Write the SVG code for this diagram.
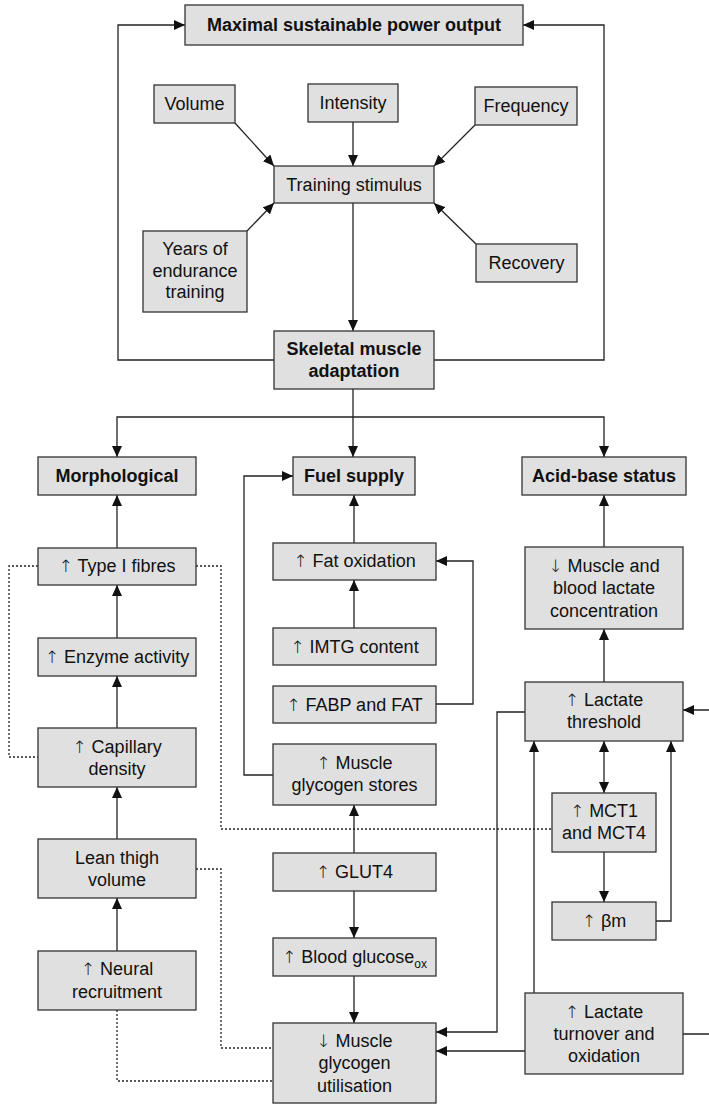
<svg xmlns="http://www.w3.org/2000/svg" width="709" height="1107" viewBox="0 0 709 1107">
<style>
.b{fill:#e0e0e0;stroke:#333;stroke-width:1.3}
text{font-family:"Liberation Sans",Arial,sans-serif;font-size:18px;fill:#111;text-anchor:middle}
.h{font-weight:bold}
.r{font-family:"DejaVu Sans",sans-serif;font-weight:200;font-size:17px}
.c{fill:none;stroke:#222;stroke-width:1.3}
.d{fill:none;stroke:#222;stroke-width:1.3;stroke-dasharray:2 2}
</style>
<defs>
<marker id="a" markerUnits="userSpaceOnUse" markerWidth="11" markerHeight="10" refX="11" refY="5" orient="auto-start-reverse">
<path d="M0,0 L11,5 L0,10 z" fill="#111"/>
</marker>
</defs>
<rect width="709" height="1107" fill="#fff"/>
<g id="connectors">
<path class="c" d="M274,360 H118 V25 H185" marker-end="url(#a)"/>
<path class="c" d="M434,360 H604 V25 H523" marker-end="url(#a)"/>
<path class="c" d="M235,123 L274,166" marker-end="url(#a)"/>
<path class="c" d="M353,122 V166" marker-end="url(#a)"/>
<path class="c" d="M475,125 L434,166" marker-end="url(#a)"/>
<path class="c" d="M247,231 L274,203" marker-end="url(#a)"/>
<path class="c" d="M476,244 L434,203" marker-end="url(#a)"/>
<path class="c" d="M353,203 V331" marker-end="url(#a)"/>
<path class="c" d="M353,389 V457" marker-end="url(#a)"/>
<path class="c" d="M353,417 H117 V457" marker-end="url(#a)"/>
<path class="c" d="M353,417 H604 V457" marker-end="url(#a)"/>
<path class="c" d="M117,548 V495" marker-end="url(#a)"/>
<path class="c" d="M117,638 V585" marker-end="url(#a)"/>
<path class="c" d="M117,728 V676" marker-end="url(#a)"/>
<path class="c" d="M117,839 V787" marker-end="url(#a)"/>
<path class="c" d="M117,951 V898" marker-end="url(#a)"/>
<path class="c" d="M354,543 V495" marker-end="url(#a)"/>
<path class="c" d="M354,628 V580" marker-end="url(#a)"/>
<path class="c" d="M436,704 H473 V561 H436" marker-end="url(#a)"/>
<path class="c" d="M273,775 H244 V476 H293" marker-end="url(#a)"/>
<path class="c" d="M354,853 V805" marker-end="url(#a)"/>
<path class="c" d="M354,891 V938" marker-end="url(#a)"/>
<path class="c" d="M354,976 V1023" marker-end="url(#a)"/>
<path class="c" d="M604,547 V495" marker-end="url(#a)"/>
<path class="c" d="M604,682 V629" marker-end="url(#a)"/>
<path class="c" d="M604,741 V793" marker-start="url(#a)" marker-end="url(#a)"/>
<path class="c" d="M604,852 V902" marker-end="url(#a)"/>
<path class="c" d="M656,921 H671 V741" marker-end="url(#a)"/>
<path class="c" d="M534,993 V741" marker-end="url(#a)"/>
<path class="c" d="M525,712 H497 V1032 H436" marker-end="url(#a)"/>
<path class="c" d="M525,1051 H436" marker-end="url(#a)"/>
<path class="c" d="M683,1034 H712 V710 H683" marker-end="url(#a)"/>
<path class="d" d="M38,566 H9 V757 H38"/>
<path class="d" d="M196,566 H221 V829 H552"/>
<path class="d" d="M196,869 H221 V1048 H273"/>
<path class="d" d="M117,1010 V1081 H273"/>
</g>
<g id="power"><rect class="b" x="185" y="5" width="338" height="40"/><text class="h" x="354" y="31">Maximal sustainable power output</text></g>
<g id="volume"><rect class="b" x="154" y="85" width="81" height="38"/><text x="194.5" y="110">Volume</text></g>
<g id="intensity"><rect class="b" x="308" y="84" width="90" height="38"/><text x="353" y="109">Intensity</text></g>
<g id="frequency"><rect class="b" x="475" y="87" width="102" height="38"/><text x="526" y="112">Frequency</text></g>
<g id="training"><rect class="b" x="274" y="166" width="160" height="37"/><text x="354" y="191">Training stimulus</text></g>
<g id="years"><rect class="b" x="143" y="231" width="104" height="81"/><text x="195" y="255">Years of</text><text x="195" y="277">endurance</text><text x="195" y="298">training</text></g>
<g id="recovery"><rect class="b" x="476" y="244" width="101" height="38"/><text x="526.5" y="269">Recovery</text></g>
<g id="skeletal"><rect class="b" x="274" y="331" width="160" height="58"/><text class="h" x="354" y="355">Skeletal muscle</text><text class="h" x="354" y="377">adaptation</text></g>
<g id="morphological"><rect class="b" x="38" y="457" width="158" height="38"/><text class="h" x="117" y="482">Morphological</text></g>
<g id="fuel"><rect class="b" x="293" y="457" width="122" height="38"/><text class="h" x="354" y="482">Fuel supply</text></g>
<g id="acidbase"><rect class="b" x="522" y="457" width="164" height="38"/><text class="h" x="604" y="482">Acid-base status</text></g>
<g id="typeI"><rect class="b" x="38" y="548" width="158" height="37"/><text x="117" y="572"><tspan class="r">↑</tspan> Type I fibres</text></g>
<g id="enzyme"><rect class="b" x="38" y="638" width="158" height="38"/><text x="117" y="663"><tspan class="r">↑</tspan> Enzyme activity</text></g>
<g id="capillary"><rect class="b" x="38" y="728" width="158" height="59"/><text x="117" y="753"><tspan class="r">↑</tspan> Capillary</text><text x="117" y="775">density</text></g>
<g id="lean"><rect class="b" x="38" y="839" width="158" height="59"/><text x="117" y="864">Lean thigh</text><text x="117" y="886">volume</text></g>
<g id="neural"><rect class="b" x="38" y="951" width="158" height="59"/><text x="117" y="975"><tspan class="r">↑</tspan> Neural</text><text x="117" y="998">recruitment</text></g>
<g id="fatox"><rect class="b" x="273" y="543" width="163" height="37"/><text x="354.5" y="567"><tspan class="r">↑</tspan> Fat oxidation</text></g>
<g id="imtg"><rect class="b" x="273" y="628" width="163" height="37"/><text x="354.5" y="653"><tspan class="r">↑</tspan> IMTG content</text></g>
<g id="fabp"><rect class="b" x="273" y="686" width="163" height="37"/><text x="354.5" y="711"><tspan class="r">↑</tspan> FABP and FAT</text></g>
<g id="glycogenstores"><rect class="b" x="273" y="744" width="163" height="61"/><text x="354.5" y="769"><tspan class="r">↑</tspan> Muscle</text><text x="354.5" y="791">glycogen stores</text></g>
<g id="glut4"><rect class="b" x="273" y="853" width="163" height="38"/><text x="354.5" y="878"><tspan class="r">↑</tspan> GLUT4</text></g>
<g id="bloodglucose"><rect class="b" x="273" y="938" width="163" height="38"/><text x="354.5" y="963"><tspan class="r">↑</tspan> Blood glucose<tspan font-size="12" dy="5">ox</tspan></text></g>
<g id="utilisation"><rect class="b" x="273" y="1023" width="163" height="80"/><text x="354.5" y="1047"><tspan class="r">↓</tspan> Muscle</text><text x="354.5" y="1069">glycogen</text><text x="354.5" y="1092">utilisation</text></g>
<g id="lactateconc"><rect class="b" x="525" y="547" width="158" height="82"/><text x="604" y="572"><tspan class="r">↓</tspan> Muscle and</text><text x="604" y="594">blood lactate</text><text x="604" y="617">concentration</text></g>
<g id="threshold"><rect class="b" x="525" y="682" width="158" height="59"/><text x="604" y="706"><tspan class="r">↑</tspan> Lactate</text><text x="604" y="728">threshold</text></g>
<g id="mct"><rect class="b" x="552" y="793" width="104" height="59"/><text x="604" y="817"><tspan class="r">↑</tspan> MCT1</text><text x="604" y="839">and MCT4</text></g>
<g id="betam"><rect class="b" x="552" y="902" width="104" height="38"/><text x="604" y="927"><tspan class="r">↑</tspan> βm</text></g>
<g id="turnover"><rect class="b" x="525" y="993" width="158" height="81"/><text x="604" y="1018"><tspan class="r">↑</tspan> Lactate</text><text x="604" y="1040">turnover and</text><text x="604" y="1062">oxidation</text></g>
</svg>
